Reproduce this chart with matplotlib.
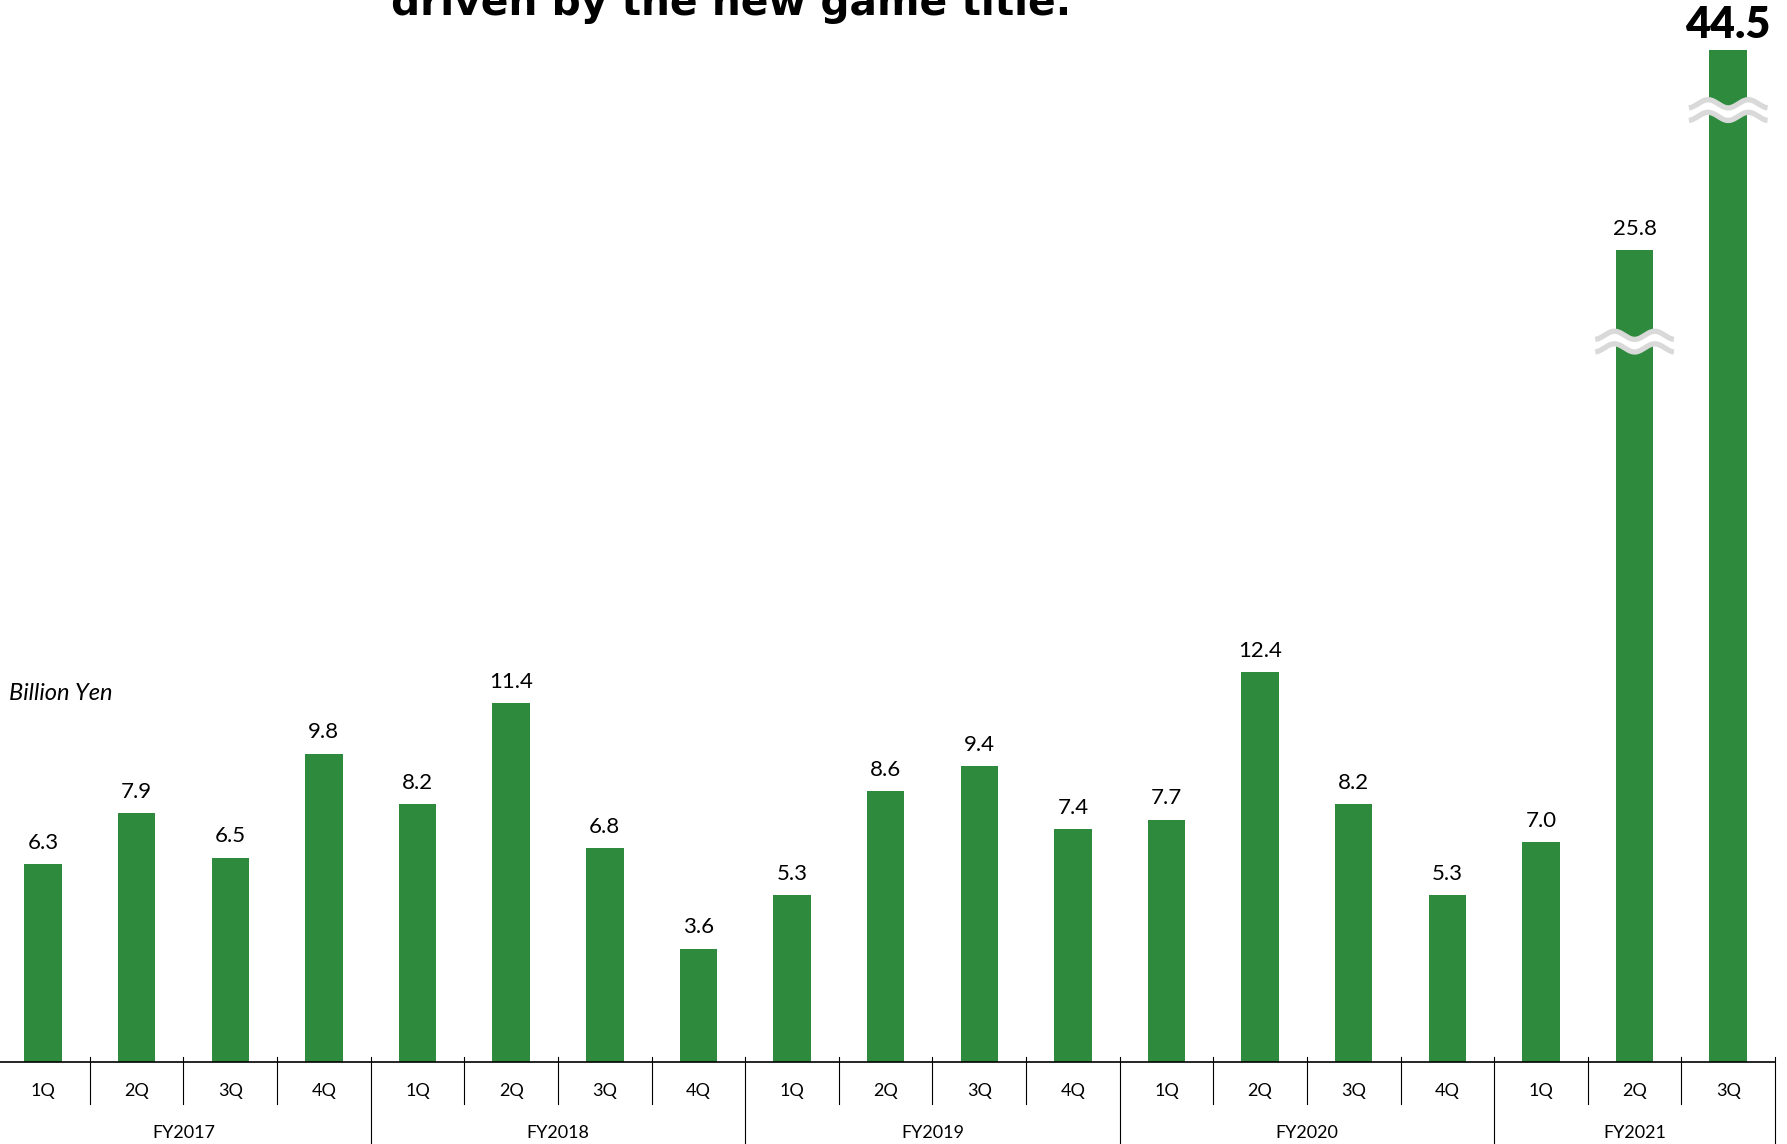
import numpy as np
from matplotlib import pyplot as plt
import matplotlib.transforms as mtransforms

quarters = ['1Q', '2Q', '3Q', '4Q', '1Q', '2Q', '3Q', '4Q', '1Q', '2Q', '3Q', '4Q',
            '1Q', '2Q', '3Q', '4Q', '1Q', '2Q', '3Q']
years = ['FY2017', 'FY2018', 'FY2019', 'FY2020', 'FY2021']
year_counts = [4, 4, 4, 4, 3]
values = [6.3, 7.9, 6.5, 9.8, 8.2, 11.4, 6.8, 3.6, 5.3, 8.6, 9.4, 7.4,
          7.7, 12.4, 8.2, 5.3, 7.0, 25.8, 44.5]
labels = ['6.3', '7.9', '6.5', '9.8', '8.2', '11.4', '6.8', '3.6', '5.3', '8.6', '9.4', '7.4',
          '7.7', '12.4', '8.2', '5.3', '7.0', '25.8', '44.5']
# bars with broken-scale marks: (index, where the wave sits)
breaks = [(17, 22.9), (18, 30.26)]

green = '#2e8b3e'
font = 'Lato'
ytop = 32.17

fig = plt.figure(figsize=(17.87, 11.44), dpi=100)
ax = fig.add_axes([-0.0021, 82 / 1144, 0.9954, 1012 / 1144])

x = np.arange(len(values))
ax.bar(x, values, width=0.4, color=green, zorder=2)
ax.set_xlim(-0.5, len(values) - 0.5)
ax.set_ylim(0, ytop)

# value labels
for i, v in enumerate(values):
    if v > ytop:
        ax.annotate(labels[i], (i, ytop), xytext=(0, 9), textcoords='offset points',
                    ha='center', va='baseline', fontsize=31, fontweight='heavy',
                    family=font, annotation_clip=False)
    else:
        ax.annotate(labels[i], (i, v), xytext=(0, 11), textcoords='offset points',
                    ha='center', va='baseline', fontsize=16, family=font)

# wavy break marks
for i, yb in breaks:
    xs = np.linspace(i - 0.42, i + 0.42, 200)
    wave = -0.13 * np.cos(2 * np.pi * (xs - i) / 0.43)
    y1 = yb + 0.2 + wave
    y2 = yb - 0.2 + wave
    ax.fill_between(xs, y2, y1, color='white', zorder=3, clip_on=False)
    ax.plot(xs, y1, color='#d9d9d9', lw=3.8, zorder=4, clip_on=False, solid_capstyle='butt')
    ax.plot(xs, y2, color='#d9d9d9', lw=3.8, zorder=4, clip_on=False, solid_capstyle='butt')

for s in ['top', 'right', 'left']:
    ax.spines[s].set_visible(False)
ax.spines['bottom'].set_linewidth(1.2)
ax.set_xticks([])
ax.set_yticks([])

# category axis: quarter and year labels with separators
trans = mtransforms.blended_transform_factory(ax.transData, ax.transAxes)
for i, q in enumerate(quarters):
    ax.text(i, -0.0287, q, transform=trans, ha='center', va='center',
            fontsize=13, family=font)

year_edges = np.cumsum([0] + year_counts) - 0.5
for k in range(len(quarters) + 1):
    xe = k - 0.5
    if xe in year_edges:
        ax.plot([xe, xe], [0.005, -0.09], transform=trans, color='black', lw=0.8, clip_on=False)
    else:
        ax.plot([xe, xe], [0.005, -0.0415], transform=trans, color='black', lw=0.8, clip_on=False)

for j, y in enumerate(years):
    xc = (year_edges[j] + year_edges[j + 1]) / 2
    ax.text(xc, -0.070, y, transform=trans, ha='center', va='center',
            fontsize=13, family=font)

fig.text(9 / 1787, 1 - 694 / 1144, 'Billion Yen', ha='left', va='center',
         fontsize=17, style='italic', family=font)

fig.text(391 / 1787, 1 - 15 / 1144, 'driven by the new game title.', ha='left',
         va='baseline', fontsize=29.3, fontweight='bold', family='DejaVu Sans')

fig.savefig('out.png', dpi=100)
